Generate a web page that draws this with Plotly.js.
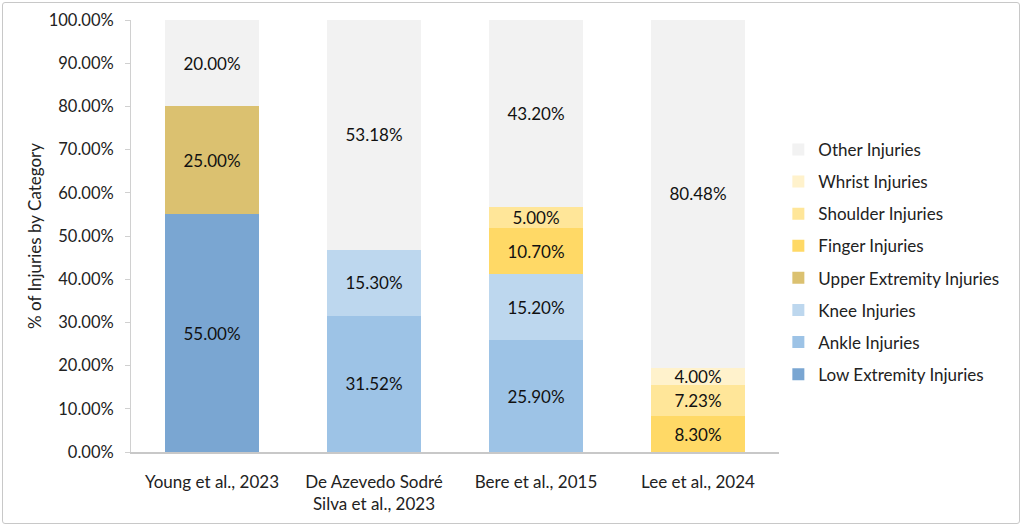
<!DOCTYPE html>
<html>
<head>
<meta charset="utf-8">
<script src="https://cdn.plot.ly/plotly-3.0.1.min.js"></script>
<style>
  body {margin: 0; background: #fff;}
  #chart {width: 1024px; height: 528px;}
  #frame {position: absolute; left: 2px; top: 2px; width: 1018px; height: 522px;
          border: 1.5px solid #c8c8c8; border-radius: 3px; box-sizing: border-box; pointer-events: none;}
</style>
</head>
<body>
<div id="chart"></div>
<div id="frame"></div>
<script>
/////Data/////
const studies = ['Young et al., 2023', 'De Azevedo Sodré<br>Silva et al., 2023', 'Bere et al., 2015', 'Lee et al., 2024'];

const lowExtremity = [55.00, null, null, null];
const ankle = [null, 31.52, 25.90, null];
const knee = [null, 15.30, 15.20, null];
const upperExtremity = [25.00, null, null, null];
const finger = [null, null, 10.70, 8.30];
const shoulder = [null, null, 5.00, 7.23];
const wrist = [null, null, null, 4.00];
const other = [20.00, 53.18, 43.20, 80.48];

const yTicks = [0, 10, 20, 30, 40, 50, 60, 70, 80, 90, 100];

/////Traces/////
const FONT = 'Lato, "Open Sans", sans-serif';
function makeBar(name, values, color, rank) {
  return {
    type: 'bar',
    name: name,
    legendgroup: name,
    legendrank: rank,
    x: studies,
    y: values,
    marker: {color: color},
    texttemplate: '%{y:.2f}%',
    textposition: 'inside',
    insidetextanchor: 'middle',
    textangle: 0,
    textfont: {family: FONT, size: 17, color: '#111'},
    hoverinfo: 'name+y'
  };
}

// stacking order bottom -> top, legend order top -> bottom is the reverse
let traces = [
  makeBar('Low Extremity Injuries', lowExtremity, '#7aa6d2', 8),
  makeBar('Ankle Injuries', ankle, '#9dc3e6', 7),
  makeBar('Knee Injuries', knee, '#bdd7ee', 6),
  makeBar('Upper Extremity Injuries', upperExtremity, '#dbc170', 5),
  makeBar('Finger Injuries', finger, '#ffd966', 4),
  makeBar('Shoulder Injuries', shoulder, '#ffe699', 3),
  makeBar('Whrist Injuries', wrist, '#fff2cc', 2),
  makeBar('Other Injuries', other, '#f2f2f2', 1)
];

const layout = {
  width: 1024,
  height: 528,
  barmode: 'stack',
  bargap: 0.425,
  margin: {l: 131, r: 245, t: 20, b: 76},
  paper_bgcolor: '#fff',
  plot_bgcolor: '#fff',
  font: {family: FONT, size: 17, color: '#222'},
  uniformtext: {mode: 'show', minsize: 17},
  xaxis: {
    showline: true,
    linecolor: '#c8c8c8',
    linewidth: 1.5,
    ticks: '',
    ticklabelstandoff: 14,
    tickfont: {family: FONT, size: 17, color: '#222'},
    showgrid: false
  },
  yaxis: {
    range: [0, 100],
    tickvals: yTicks,
    ticktext: yTicks.map((v) => v.toFixed(2) + '%'),
    showline: true,
    linecolor: '#d0d0d0',
    linewidth: 1,
    ticks: 'outside',
    ticklen: 5,
    tickcolor: '#d0d0d0',
    ticklabelstandoff: 8,
    showgrid: false,
    zeroline: false,
    tickfont: {family: FONT, size: 16.5, color: '#222'},
    title: {text: '% of Injuries by Category', font: {family: FONT, size: 17, color: '#222'}, standoff: 2}
  },
  showlegend: true,
  legend: {
    traceorder: 'grouped',
    tracegroupgap: 7,
    x: 0.999,
    xanchor: 'left',
    y: 0.44,
    yanchor: 'middle',
    font: {family: FONT, size: 17, color: '#222'},
    itemwidth: 30
  }
};

Plotly.newPlot('chart', traces, layout, {displayModeBar: false, staticPlot: true});
</script>
</body>
</html>
